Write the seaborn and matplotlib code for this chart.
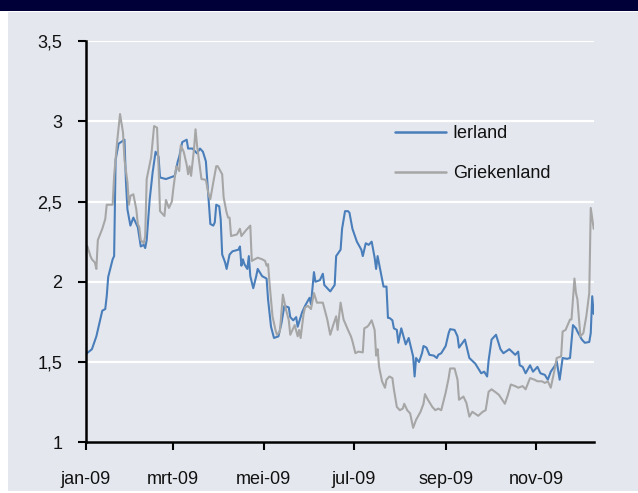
import matplotlib
matplotlib.use("Agg")
import matplotlib.pyplot as plt
from matplotlib.patches import Rectangle
import pandas as pd
import seaborn as sns

# ---- data (day offsets from 1 Jan 2009, spread in %-points) ----
start_datum = "2009-01-01"
eind_dag = 343.2

ierland_dag = [0, 4, 7, 11, 13, 14, 15, 18, 19, 20,
               22, 26, 27, 28, 30, 32, 35, 37, 39, 40,
               41, 43, 45, 47, 49, 50, 54, 57, 60, 62,
               63, 65, 68, 69, 72, 75, 77, 79, 81, 83,
               84, 86, 87, 88, 90, 91, 92, 94, 95, 97,
               99, 103, 104, 105, 106, 107, 109, 110, 111, 113,
               115, 116, 119, 122, 123, 125, 127, 130, 132, 134,
               137, 138, 140, 142, 143, 146, 148, 151, 152, 154,
               155, 158, 160, 161, 165, 168, 169, 172, 173, 175,
               177, 178, 180, 183, 186, 187, 189, 191, 193, 195,
               196, 197, 200, 201, 203, 204, 205, 207, 208, 210,
               211, 213, 216, 218, 221, 222, 223, 225, 227, 228,
               230, 232, 235, 237, 238, 240, 243, 245, 246, 249,
               251, 252, 256, 259, 263, 265, 267, 269, 271, 272,
               274, 277, 280, 282, 286, 290, 292, 293, 295, 297,
               300, 302, 305, 307, 310, 312, 314, 317, 318, 320,
               322, 325, 327, 329, 331, 332, 335, 337, 340, 341,
               342, 343]
ierland = [1.55, 1.58, 1.66, 1.82, 1.83, 1.91, 2.03, 2.14, 2.16, 2.76,
           2.86, 2.885, 2.62, 2.45, 2.35, 2.40, 2.34, 2.22, 2.23, 2.21,
           2.26, 2.51, 2.68, 2.81, 2.78, 2.65, 2.64, 2.65, 2.66, 2.75,
           2.78, 2.87, 2.885, 2.83, 2.83, 2.80, 2.83, 2.81, 2.75, 2.49,
           2.36, 2.35, 2.37, 2.48, 2.47, 2.39, 2.17, 2.12, 2.08, 2.17,
           2.19, 2.20, 2.22, 2.10, 2.14, 2.11, 2.08, 2.16, 2.035, 1.96,
           2.035, 2.08, 2.035, 2.02, 1.89, 1.72, 1.65, 1.66, 1.74, 1.85,
           1.84, 1.78, 1.76, 1.78, 1.72, 1.81, 1.85, 1.90, 1.86, 2.06,
           2.00, 2.01, 2.05, 1.98, 1.94, 1.98, 2.16, 2.20, 2.33, 2.44,
           2.44, 2.43, 2.33, 2.25, 2.20, 2.16, 2.24, 2.23, 2.25, 2.15,
           2.08, 2.16, 2.015, 1.97, 1.97, 1.775, 1.775, 1.76, 1.71, 1.70,
           1.62, 1.71, 1.61, 1.65, 1.535, 1.41, 1.525, 1.50, 1.555, 1.60,
           1.59, 1.545, 1.54, 1.525, 1.545, 1.555, 1.60, 1.68, 1.705, 1.70,
           1.66, 1.59, 1.64, 1.525, 1.49, 1.46, 1.43, 1.44, 1.41, 1.51,
           1.64, 1.67, 1.58, 1.555, 1.58, 1.545, 1.565, 1.48, 1.47, 1.43,
           1.48, 1.44, 1.47, 1.43, 1.42, 1.39, 1.44, 1.48, 1.505, 1.39,
           1.525, 1.52, 1.525, 1.73, 1.71, 1.69, 1.64, 1.62, 1.625, 1.68,
           1.91, 1.80]

griekenland_dag = [0, 1, 3, 4, 6, 7, 8, 11, 13, 14,
                   18, 19, 21, 23, 25, 26, 28, 29, 30, 32,
                   34, 35, 36, 37, 39, 40, 41, 44, 46, 48,
                   49, 50, 53, 54, 56, 58, 59, 61, 63, 64,
                   66, 68, 69, 70, 71, 73, 74, 75, 76, 78,
                   81, 83, 84, 86, 88, 89, 92, 93, 95, 96,
                   97, 98, 102, 104, 105, 108, 111, 112, 114, 116,
                   119, 121, 122, 123, 124, 126, 128, 129, 131, 133,
                   135, 137, 138, 141, 143, 144, 145, 147, 148, 150,
                   152, 154, 156, 160, 163, 165, 167, 169, 170, 172,
                   174, 177, 179, 180, 182, 184, 187, 188, 190, 191,
                   193, 195, 196, 197, 198, 200, 202, 203, 205, 207,
                   208, 210, 212, 214, 215, 217, 219, 221, 223, 226,
                   228, 229, 231, 234, 236, 238, 240, 243, 245, 246,
                   249, 251, 252, 255, 257, 259, 261, 265, 268, 270,
                   272, 274, 277, 279, 283, 285, 287, 290, 292, 295,
                   297, 300, 303, 305, 308, 310, 312, 314, 317, 318,
                   321, 322, 324, 327, 328, 330, 331, 332, 334, 336,
                   338, 340, 341, 343]
griekenland = [2.23, 2.22, 2.16, 2.14, 2.12, 2.08, 2.26, 2.33, 2.39, 2.48,
               2.48, 2.66, 2.87, 3.045, 2.93, 2.76, 2.62, 2.48, 2.535, 2.545,
               2.45, 2.36, 2.34, 2.26, 2.24, 2.285, 2.64, 2.775, 2.97, 2.96,
               2.72, 2.44, 2.41, 2.51, 2.46, 2.50, 2.58, 2.72, 2.69, 2.85,
               2.81, 2.73, 2.67, 2.72, 2.66, 2.83, 2.95, 2.85, 2.78, 2.64,
               2.635, 2.535, 2.515, 2.62, 2.72, 2.72, 2.67, 2.525, 2.43, 2.40,
               2.40, 2.285, 2.295, 2.33, 2.285, 2.32, 2.35, 2.13, 2.14, 2.15,
               2.14, 2.13, 2.10, 2.11, 1.99, 1.785, 1.70, 1.67, 1.69, 1.92,
               1.83, 1.76, 1.67, 1.73, 1.66, 1.70, 1.65, 1.80, 1.84, 1.85,
               1.83, 1.93, 1.87, 1.87, 1.765, 1.67, 1.73, 1.785, 1.70, 1.87,
               1.765, 1.70, 1.66, 1.63, 1.555, 1.565, 1.56, 1.71, 1.72, 1.73,
               1.76, 1.70, 1.54, 1.58, 1.47, 1.38, 1.34, 1.39, 1.41, 1.40,
               1.33, 1.22, 1.20, 1.21, 1.24, 1.20, 1.18, 1.09, 1.14, 1.19,
               1.24, 1.30, 1.265, 1.22, 1.20, 1.21, 1.20, 1.31, 1.40, 1.46,
               1.46, 1.39, 1.265, 1.285, 1.245, 1.16, 1.19, 1.165, 1.19, 1.20,
               1.315, 1.33, 1.31, 1.295, 1.24, 1.295, 1.36, 1.35, 1.34, 1.35,
               1.33, 1.40, 1.39, 1.38, 1.38, 1.37, 1.38, 1.34, 1.47, 1.525,
               1.535, 1.69, 1.70, 1.765, 1.765, 2.02, 1.93, 1.89, 1.66, 1.68,
               1.785, 1.93, 2.46, 2.33]

series_namen = ["Ierland", "Griekenland"]
kleuren = ["#4A7EBB", "#A6A6A6"]

maand_posities = ["2009-01-01", "2009-03-01", "2009-05-01",
                  "2009-07-01", "2009-09-01", "2009-11-01"]
maand_labels = ["jan-09", "mrt-09", "mei-09", "jul-09", "sep-09", "nov-09"]
y_ticks = [1, 1.5, 2, 2.5, 3, 3.5]
y_labels = ["1", "1,5", "2", "2,5", "3", "3,5"]

# ---- build table ----
t0 = pd.Timestamp(start_datum)
df = pd.concat([
    pd.DataFrame({"datum": t0 + pd.to_timedelta(ierland_dag, unit="D"),
                  "spread": ierland, "land": "Ierland"}),
    pd.DataFrame({"datum": t0 + pd.to_timedelta(griekenland_dag, unit="D"),
                  "spread": griekenland, "land": "Griekenland"}),
], ignore_index=True)

# ---- style ----
sns.set_theme(style="white")
plt.rcParams["font.family"] = ["Liberation Sans", "DejaVu Sans"]
BG = "#E4E8EE"
FS = 13

W, H = 638, 493
fig = plt.figure(figsize=(W / 100, H / 100), dpi=100)
fig.patch.set_facecolor("white")
# light panel
fig.patches.append(Rectangle((8 / W, 2 / H), (W - 8) / W, (491 - 12) / H,
                             transform=fig.transFigure, facecolor=BG,
                             edgecolor="none", zorder=-10))
# dark header bar
fig.patches.append(Rectangle((0, 1 - 11 / H), 1, 11 / H,
                             transform=fig.transFigure, facecolor="#000038",
                             edgecolor="none", zorder=-10))

ax = fig.add_axes([86 / W, 1 - 442.3 / H, (594 - 86) / W, (442.3 - 41) / H])
ax.set_zorder(5)
ax.set_facecolor(BG)

sns.lineplot(data=df, x="datum", y="spread", hue="land",
             hue_order=series_namen, palette=dict(zip(series_namen, kleuren)),
             estimator=None, linewidth=1.5, ax=ax)

ax.set_xlim(t0, t0 + pd.Timedelta(days=eind_dag))
ax.set_ylim(1, 3.5)
ax.set_xticks(pd.to_datetime(maand_posities))
ax.set_xticklabels(maand_labels)
ax.set_yticks(y_ticks)
ax.set_yticklabels(y_labels)
ax.set_xlabel("")
ax.set_ylabel("")

ax.yaxis.grid(True, color="white", linewidth=1.6)
ax.xaxis.grid(False)
ax.set_axisbelow(True)

for s in ["top", "right"]:
    ax.spines[s].set_visible(False)
for s in ["left", "bottom"]:
    ax.spines[s].set_color("black")
    ax.spines[s].set_linewidth(1.8)

ax.tick_params(axis="both", which="major", direction="out", length=6,
               width=1.5, color="black", labelsize=FS, labelcolor="#111111")
ax.tick_params(axis="y", pad=11)
ax.tick_params(axis="x", pad=15)
ax.tick_params(left=True, bottom=True)

leg = ax.legend(frameon=False, loc="upper left",
                bbox_to_anchor=(0.608, 0.790), borderpad=0, borderaxespad=0,
                handlelength=2.82, handletextpad=0.38, labelspacing=1.27,
                fontsize=FS)
for txt in leg.get_texts():
    txt.set_color("#111111")
for line in leg.get_lines():
    line.set_linewidth(1.8)

fig.savefig("out.png", dpi=100, facecolor=fig.get_facecolor())
